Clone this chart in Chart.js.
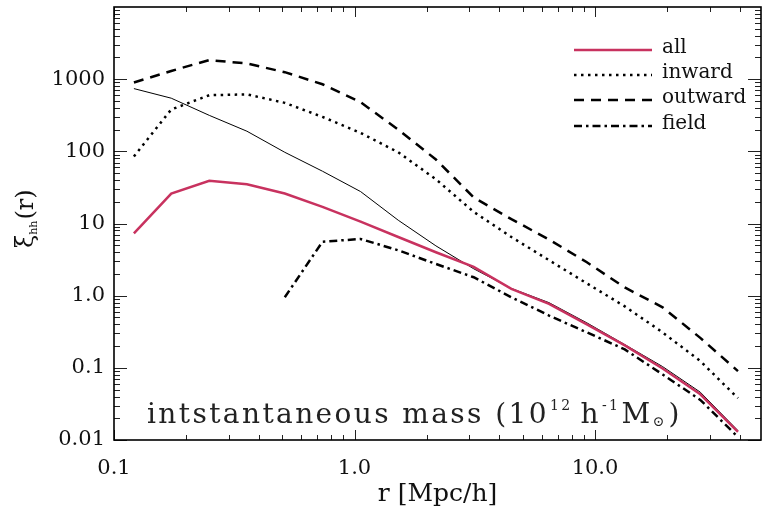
<!DOCTYPE html>
<html>
<head>
<meta charset="utf-8">
<script src="https://cdn.jsdelivr.net/npm/chart.js@4/dist/chart.umd.min.js"></script>
<style>
  html, body { margin: 0; padding: 0; background: #fff; }
  #wrap { width: 762px; height: 511px; position: relative; }
</style>
</head>
<body>
<div id="wrap"><canvas id="xiChart"></canvas></div>
<script>
// separation r [Mpc/h]
const rValues = [0.121, 0.173, 0.249, 0.357, 0.513, 0.736, 1.06, 1.52, 2.18, 3.13, 4.49, 6.44, 9.25, 13.3, 19.1, 27.4, 39.3];
// correlation functions xi_hh(r)
const allValues     = [7.3, 26, 39, 35, 26, 17, 10.6, 6.5, 4.0, 2.5, 1.24, 0.77, 0.40, 0.205, 0.098, 0.043, 0.013];
const inwardValues  = [85, 380, 600, 615, 470, 300, 180, 97, 41, 14.5, 6.5, 3.1, 1.48, 0.71, 0.31, 0.124, 0.038];
const outwardValues = [900, 1300, 1840, 1650, 1250, 850, 480, 200, 77, 23, 11.5, 6.0, 2.9, 1.3, 0.69, 0.26, 0.09];
const fieldValues   = [null, null, null, null, 0.95, 5.6, 6.1, 4.25, 2.75, 1.8, 0.95, 0.53, 0.31, 0.18, 0.081, 0.036, 0.011];
const darkmatterValues = [740, 545, 315, 190, 97, 53, 27.7, 11.1, 4.9, 2.36, 1.26, 0.8, 0.42, 0.21, 0.104, 0.046, 0.0135];

const xTickValues = [0.1, 1, 10];
const xTickLabels = ['0.1', '1.0', '10.0'];
const yTickValues = [0.01, 0.1, 1, 10, 100, 1000];
const yTickLabels = ['0.01', '0.1', '1.0', '10', '100', '1000'];

const SERIF = '"DejaVu Serif", "Liberation Serif", serif';

function pts(vals) {
    return rValues.map((r, i) => ({ x: r, y: vals[i] })).filter(p => p.y !== null);
}

// inward tick marks + frame
const frameTicks = {
    id: 'frameTicks',
    afterDraw(chart) {
        const { ctx, chartArea: a, scales } = chart;
        const xs = scales.x, ys = scales.y;
        ctx.save();
        ctx.strokeStyle = '#222';
        ctx.lineWidth = 1;
        ctx.beginPath();
        for (let d = 0.1; d <= 10; d *= 10) {
            for (let m = 1; m <= 9; m++) {
                const v = d * m;
                if (v > xs.max) break;
                const px = Math.round(xs.getPixelForValue(v)) + 0.5;
                const len = m === 1 ? 10 : 5;
                ctx.moveTo(px, a.bottom); ctx.lineTo(px, a.bottom - len);
                ctx.moveTo(px, a.top); ctx.lineTo(px, a.top + len);
            }
        }
        for (let d = 0.01; d <= 1000; d *= 10) {
            for (let m = 1; m <= 9; m++) {
                const v = d * m;
                if (v > ys.max * 1.0001) break;
                const py = Math.round(ys.getPixelForValue(v)) + 0.5;
                const len = m === 1 ? 13 : 6;
                ctx.moveTo(a.left, py); ctx.lineTo(a.left + len, py);
                ctx.moveTo(a.right, py); ctx.lineTo(a.right - len, py);
            }
        }
        ctx.stroke();
        ctx.lineWidth = 1.6;
        ctx.strokeStyle = '#000';
        ctx.strokeRect(a.left, a.top, a.right - a.left, a.bottom - a.top);
        ctx.restore();
    }
};

// legend, annotation and y title
const extras = {
    id: 'extras',
    afterDraw(chart) {
        const { ctx } = chart;
        ctx.save();
        // legend
        const rows = [50, 75, 100, 126];
        chart.data.datasets.slice(0, 4).forEach((ds, i) => {
            ctx.strokeStyle = ds.borderColor;
            ctx.lineWidth = ds.borderWidth;
            ctx.setLineDash(ds.borderDash || []);
            ctx.beginPath();
            ctx.moveTo(574, rows[i]);
            ctx.lineTo(652, rows[i]);
            ctx.stroke();
            ctx.setLineDash([]);
            ctx.fillStyle = '#111';
            ctx.font = '20px ' + SERIF;
            ctx.textBaseline = 'middle';
            ctx.fillText(ds.label, 662, rows[i] - 2);
        });

        // annotation
        ctx.fillStyle = '#222';
        ctx.textBaseline = 'alphabetic';
        let x = 147;
        const base = 423;
        const big = '28px ' + SERIF, small = '14px ' + SERIF;
        ctx.letterSpacing = '2.4px';
        ctx.font = big;
        let s = 'intstantaneous mass (10';
        ctx.fillText(s, x, base); x += ctx.measureText(s).width;
        ctx.font = small; s = '12';
        ctx.fillText(s, x + 1, base - 13); x += ctx.measureText(s).width + 9;
        ctx.font = big; s = 'h';
        ctx.fillText(s, x, base); x += ctx.measureText(s).width;
        ctx.font = small; s = '-1';
        ctx.fillText(s, x + 1, base - 13); x += ctx.measureText(s).width + 2;
        ctx.font = big; s = 'M';
        ctx.fillText(s, x, base); x += ctx.measureText(s).width;
        ctx.font = small; s = '\u2299';
        ctx.fillText(s, x, base + 3); x += ctx.measureText(s).width + 2;
        ctx.font = big; s = ')';
        ctx.fillText(s, x, base);
        ctx.letterSpacing = '0px';

        // y axis title
        ctx.translate(33, 215);
        ctx.rotate(-Math.PI / 2);
        ctx.fillStyle = '#111';
        let y0 = -33;
        ctx.font = '24px ' + SERIF; s = '\u03be';
        ctx.fillText(s, y0, 0); y0 += ctx.measureText(s).width;
        ctx.font = '11px ' + SERIF; s = 'hh';
        ctx.fillText(s, y0, 4); y0 += ctx.measureText(s).width + 1;
        ctx.font = '24px ' + SERIF; s = '(r)';
        ctx.fillText(s, y0, 0);
        ctx.restore();
    }
};

const ctx = document.getElementById('xiChart').getContext('2d');
const xiChart = new Chart(ctx, {
    type: 'line',
    data: {
        datasets: [
            { label: 'all', data: pts(allValues), borderColor: '#C8325F', borderWidth: 2.5 },
            { label: 'inward', data: pts(inwardValues), borderColor: '#000', borderWidth: 2.5, borderDash: [2.5, 4.5] },
            { label: 'outward', data: pts(outwardValues), borderColor: '#000', borderWidth: 2.5, borderDash: [10, 7] },
            { label: 'field', data: pts(fieldValues), borderColor: '#000', borderWidth: 2.5, borderDash: [8, 4, 2.5, 4] },
            { label: 'dark matter', data: pts(darkmatterValues), borderColor: '#000', borderWidth: 1 }
        ]
    },
    options: {
        responsive: true,
        maintainAspectRatio: false,
        animation: false,
        devicePixelRatio: 1,
        layout: { padding: { top: 7, right: 1, left: 0, bottom: 0 } },
        elements: { point: { radius: 0 }, line: { tension: 0, fill: false } },
        plugins: { legend: { display: false }, tooltip: { enabled: false } },
        scales: {
            x: {
                type: 'logarithmic',
                min: 0.1,
                max: 49,
                grid: { display: false, drawTicks: false },
                border: { display: false },
                afterFit(scale) {
                    scale.height = 71;
                    scale.paddingLeft = 0;
                    scale.paddingRight = 0;
                },
                afterBuildTicks(scale) { scale.ticks = xTickValues.map(v => ({ value: v })); },
                ticks: {
                    color: '#111',
                    font: { family: SERIF, size: 21 },
                    padding: 16,
                    maxRotation: 0,
                    autoSkip: false,
                    callback: (v) => xTickLabels[xTickValues.indexOf(v)]
                },
                title: {
                    display: true,
                    text: 'r [Mpc/h]',
                    color: '#111',
                    font: { family: SERIF, size: 25 },
                    padding: { top: 0, bottom: 2 }
                }
            },
            y: {
                type: 'logarithmic',
                min: 0.01,
                max: 10000,
                grid: { display: false, drawTicks: false },
                border: { display: false },
                afterFit(scale) {
                    scale.width = 114;
                    scale.paddingTop = 0;
                    scale.paddingBottom = 0;
                },
                afterBuildTicks(scale) { scale.ticks = yTickValues.map(v => ({ value: v })); },
                ticks: {
                    color: '#111',
                    font: { family: SERIF, size: 21 },
                    padding: 9,
                    autoSkip: false,
                    callback: (v) => yTickLabels[yTickValues.indexOf(v)]
                }
            }
        }
    },
    plugins: [frameTicks, extras]
});
</script>
</body>
</html>
